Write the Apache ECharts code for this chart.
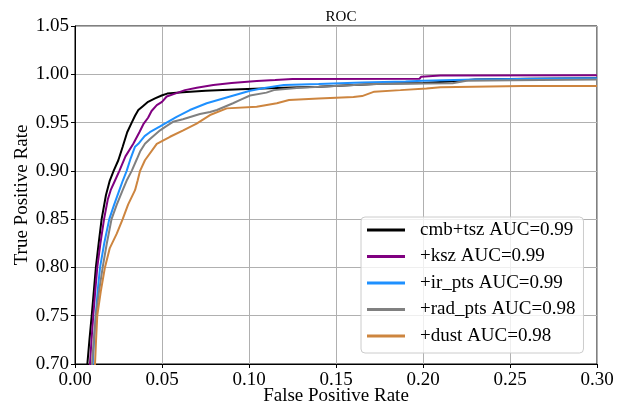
<!DOCTYPE html>
<html>
<head>
<meta charset="utf-8">
<script src="https://cdn.jsdelivr.net/npm/echarts@6/dist/echarts.min.js"></script>
<style>
  html, body { margin: 0; padding: 0; background: #fff; }
  #chart { width: 624px; height: 406px; }
</style>
</head>
<body>
<div id="chart"></div>
<script>
// ROC curves for successive foreground combinations
const seriesNames = ['cmb+tsz AUC=0.99', '+ksz AUC=0.99', '+ir_pts AUC=0.99', '+rad_pts AUC=0.98', '+dust AUC=0.98'];
const seriesColors = ['#000000', '#800080', '#1e90ff', '#808080', '#cd853f'];

const xTicks = [0.00, 0.05, 0.10, 0.15, 0.20, 0.25, 0.30];
const yTicks = [0.70, 0.75, 0.80, 0.85, 0.90, 0.95, 1.00, 1.05];

const fprCmbTsz = [0.0068, 0.0071, 0.0083, 0.0096, 0.0108, 0.0120, 0.0136, 0.0153, 0.0178, 0.0200, 0.0222, 0.0249, 0.0274, 0.0300, 0.0326, 0.0345, 0.0364, 0.0390, 0.0420, 0.0460, 0.0498, 0.0530, 0.0620, 0.0750, 0.0950, 0.1200, 0.1400, 0.1600, 0.1800, 0.2000, 0.2150, 0.2300, 0.2600, 0.3000];
const tprCmbTsz = [0.695, 0.700, 0.725, 0.750, 0.775, 0.800, 0.825, 0.850, 0.875, 0.890, 0.900, 0.911, 0.925, 0.940, 0.950, 0.957, 0.963, 0.967, 0.9715, 0.975, 0.978, 0.980, 0.9815, 0.983, 0.9845, 0.986, 0.987, 0.989, 0.9905, 0.991, 0.9925, 0.9945, 0.9955, 0.996];

const fprKsz = [0.0084, 0.0086, 0.0095, 0.0105, 0.0116, 0.0128, 0.0146, 0.0167, 0.0188, 0.0205, 0.0230, 0.0255, 0.0290, 0.0335, 0.0370, 0.0395, 0.0420, 0.0440, 0.0470, 0.0500, 0.0527, 0.0575, 0.0632, 0.0700, 0.0795, 0.0900, 0.1045, 0.1150, 0.1250, 0.1980, 0.1990, 0.2100, 0.3000];
const tprKsz = [0.695, 0.700, 0.725, 0.750, 0.775, 0.800, 0.825, 0.850, 0.870, 0.880, 0.890, 0.900, 0.915, 0.928, 0.940, 0.949, 0.955, 0.962, 0.968, 0.9715, 0.977, 0.980, 0.9836, 0.986, 0.989, 0.991, 0.993, 0.994, 0.995, 0.9954, 0.9975, 0.9987, 0.999];

const fprIrPts = [0.0100, 0.0102, 0.0110, 0.0119, 0.0130, 0.0144, 0.0168, 0.0197, 0.0225, 0.0255, 0.0275, 0.0297, 0.0320, 0.0345, 0.0364, 0.0400, 0.0430, 0.0489, 0.0584, 0.0660, 0.0757, 0.0891, 0.1006, 0.1080, 0.1200, 0.1400, 0.1650, 0.1900, 0.2000, 0.2300, 0.2800, 0.3000];
const tprIrPts = [0.695, 0.700, 0.725, 0.750, 0.775, 0.800, 0.825, 0.850, 0.865, 0.880, 0.890, 0.900, 0.913, 0.925, 0.928, 0.936, 0.940, 0.946, 0.956, 0.963, 0.970, 0.977, 0.983, 0.9855, 0.989, 0.990, 0.9915, 0.9925, 0.9932, 0.9946, 0.9957, 0.996];

const fprRadPts = [0.0096, 0.0098, 0.0108, 0.0120, 0.0138, 0.0159, 0.0183, 0.0210, 0.0240, 0.0274, 0.0297, 0.0326, 0.0355, 0.0374, 0.0402, 0.0431, 0.0489, 0.0527, 0.0563, 0.0620, 0.0718, 0.0776, 0.0816, 0.0908, 0.0950, 0.1006, 0.1100, 0.1143, 0.1290, 0.1410, 0.1716, 0.2170, 0.2250, 0.2520, 0.3000];
const tprRadPts = [0.695, 0.700, 0.725, 0.750, 0.775, 0.800, 0.825, 0.850, 0.865, 0.880, 0.890, 0.900, 0.912, 0.920, 0.928, 0.933, 0.942, 0.9465, 0.9508, 0.9535, 0.9588, 0.961, 0.963, 0.970, 0.9735, 0.978, 0.981, 0.9836, 0.986, 0.987, 0.990, 0.9907, 0.9932, 0.9938, 0.9946];

const fprDust = [0.0113, 0.0115, 0.0121, 0.0128, 0.0148, 0.0172, 0.0200, 0.0240, 0.0274, 0.0305, 0.0345, 0.0360, 0.0374, 0.0402, 0.0470, 0.0546, 0.0622, 0.0699, 0.0776, 0.0872, 0.1044, 0.1160, 0.1230, 0.1400, 0.1600, 0.1650, 0.1720, 0.1870, 0.2020, 0.2100, 0.2570, 0.3000];
const tprDust = [0.695, 0.700, 0.725, 0.750, 0.775, 0.800, 0.820, 0.835, 0.850, 0.865, 0.880, 0.890, 0.900, 0.911, 0.928, 0.9353, 0.942, 0.949, 0.9578, 0.9647, 0.9664, 0.970, 0.9733, 0.975, 0.9765, 0.9774, 0.982, 0.9836, 0.9853, 0.9865, 0.9878, 0.9878];

const curves = [
  [fprCmbTsz, tprCmbTsz],
  [fprKsz, tprKsz],
  [fprIrPts, tprIrPts],
  [fprRadPts, tprRadPts],
  [fprDust, tprDust]
];

const serif = 'Liberation Serif, Times New Roman, serif';

const chart = echarts.init(document.getElementById('chart'), null, { renderer: 'canvas' });

const series = curves.map(([fpr, tpr], i) => ({
  name: seriesNames[i],
  type: 'line',
  symbol: 'none',
  clip: true,
  animation: false,
  data: fpr.map((x, k) => [x, tpr[k]]),
  lineStyle: { color: seriesColors[i], width: 2 },
  itemStyle: { color: seriesColors[i] }
}));

chart.setOption({
  animation: false,
  backgroundColor: '#ffffff',
  title: {
    text: 'ROC',
    left: 336,
    top: 5,
    textAlign: 'center',
    textStyle: { fontFamily: serif, fontSize: 15, fontWeight: 'normal', color: '#000' }
  },
  grid: {
    left: 75, right: 27, top: 26, bottom: 42,
    outerBoundsMode: 'none',
    containLabel: false,
    show: true, borderColor: '#000', borderWidth: 1, backgroundColor: 'transparent'
  },
  legend: {
    orient: 'vertical',
    left: 361,
    top: 217,
    padding: [3, 8, 7, 6],
    icon: 'rect',
    itemWidth: 38,
    itemHeight: 3,
    itemGap: 6.5,
    backgroundColor: 'rgba(255,255,255,0.8)',
    borderColor: '#cccccc',
    borderWidth: 1,
    borderRadius: 4,
    data: seriesNames,
    textStyle: { fontFamily: serif, fontSize: 19, color: '#000', lineHeight: 20, padding: [0, 0, 0, 10] }
  },
  xAxis: {
    type: 'value',
    min: xTicks[0],
    max: xTicks[xTicks.length - 1],
    interval: 0.05,
    name: 'False Positive Rate',
    nameLocation: 'middle',
    nameGap: 32,
    nameMoveOverlap: false,
    nameTextStyle: { fontFamily: serif, fontSize: 19, color: '#000', verticalAlign: 'middle' },
    axisLine: { show: true, onZero: false, lineStyle: { color: '#000', width: 1 } },
    axisTick: { show: true, inside: false, length: 4, lineStyle: { color: '#000' } },
    axisLabel: { fontFamily: serif, fontSize: 19, color: '#000', margin: 7, formatter: v => v.toFixed(2) },
    splitLine: { show: true, lineStyle: { color: '#b0b0b0', width: 1 } }
  },
  yAxis: {
    type: 'value',
    min: yTicks[0],
    max: yTicks[yTicks.length - 1],
    interval: 0.05,
    name: 'True Positive Rate',
    nameLocation: 'middle',
    nameGap: 53,
    nameMoveOverlap: false,
    nameTextStyle: { fontFamily: serif, fontSize: 19, color: '#000', verticalAlign: 'middle' },
    axisLine: { show: true, onZero: false, lineStyle: { color: '#000', width: 1 } },
    axisTick: { show: true, inside: false, length: 4, lineStyle: { color: '#000' } },
    axisLabel: { fontFamily: serif, fontSize: 19, color: '#000', margin: 6, formatter: v => v.toFixed(2) },
    splitLine: { show: true, lineStyle: { color: '#b0b0b0', width: 1 } }
  },
  series: series
});
</script>
</body>
</html>
